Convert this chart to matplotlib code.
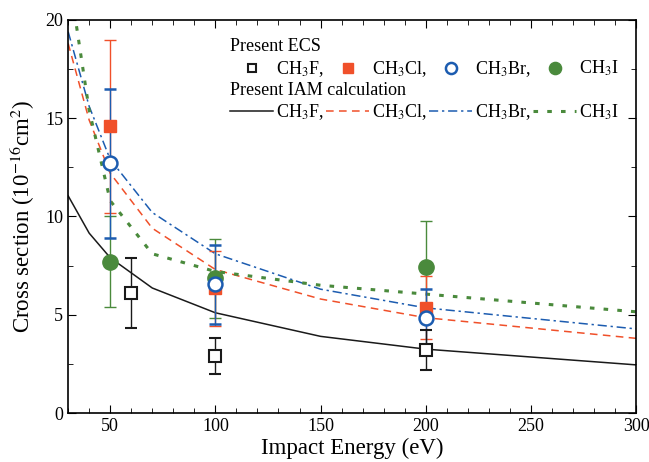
import matplotlib
matplotlib.use("Agg")
import matplotlib.pyplot as plt
from matplotlib.lines import Line2D
import numpy as np

plt.rcParams['font.family'] = ['Liberation Serif', 'DejaVu Serif']
plt.rcParams['mathtext.fontset'] = 'stix'

### Measured ECS (symbols with error bars)
f_x = [60, 100, 200]
f_y = [6.1, 2.9, 3.2]
f_err = [1.8, 0.9, 1.0]

cl_x = [50, 100, 200]
cl_y = [14.6, 6.35, 5.35]
cl_err = [4.4, 1.9, 1.6]

br_x = [50, 100, 200]
br_y = [12.7, 6.55, 4.85]
br_err = [3.8, 2.0, 1.45]

i_x = [50, 100, 200]
i_y = [7.7, 6.85, 7.45]
i_err = [2.3, 2.0, 2.3]

### IAM calculation (lines)
iam_e = [30, 40, 50, 70, 100, 150, 200, 300]
iam_f = [11.05, 9.15, 7.9, 6.36, 5.1, 3.9, 3.25, 2.45]
iam_cl = [18.8, 14.9, 12.2, 9.4, 7.3, 5.8, 4.85, 3.8]
iam_br = [19.4, 15.6, 12.9, 10.2, 8.1, 6.3, 5.35, 4.28]
iam_i = [22.5, 15.4, 10.8, 8.1, 7.2, 6.5, 6.05, 5.15]

names = ['CH$_3$F,', 'CH$_3$Cl,', 'CH$_3$Br,', 'CH$_3$I']

c_black = '#1a1a1a'
c_red = '#f0502a'
c_blue = '#1c5cb0'
c_green = '#4a8a3c'

fig = plt.figure(figsize=(6.49, 4.62), dpi=100)
ax = fig.add_axes([0.105, 0.106, 0.875, 0.851])

# lines
ls_cl = dict(color=c_red, lw=1.1, dashes=(5, 3.5))
ls_br = dict(color=c_blue, lw=1.1, dashes=(6, 2.5, 1.5, 2.5))
ls_i = dict(color=c_green, lw=2.2, dashes=(1.5, 3))
ax.plot(iam_e, iam_f, color=c_black, lw=1.1)
ax.plot(iam_e, iam_cl, **ls_cl)
ax.plot(iam_e, iam_br, **ls_br)
ax.plot(iam_e, iam_i, **ls_i)

# symbols
sym_i = dict(marker='o', color=c_green, ms=11)
sym_cl = dict(marker='s', color=c_red, ms=9)
sym_br = dict(marker='o', color=c_blue, mfc='white', mec=c_blue, mew=1.8, ms=10)
sym_f = dict(marker='s', color=c_black, mfc='white', mec=c_black, mew=1.5, ms=8)
eb = dict(capsize=4, elinewidth=1, capthick=1, ls='none')
ax.errorbar(i_x, i_y, yerr=i_err, **sym_i, **eb)
ax.errorbar(cl_x, cl_y, yerr=cl_err, **sym_cl, **eb)
ax.errorbar(br_x, br_y, yerr=br_err, **sym_br, **eb)
ax.errorbar(f_x, f_y, yerr=f_err, **sym_f, **eb)

ax.set_xlim(30, 300)
ax.set_ylim(0, 20)
ax.set_xticks([50, 100, 150, 200, 250, 300])
ax.set_xticks(np.arange(30, 301, 10), minor=True)
ax.set_yticks([0, 5, 10, 15, 20])
ax.set_yticks(np.arange(0, 20.1, 2.5), minor=True)
ax.tick_params(which='both', direction='in', top=True, right=True, labelsize=13)
ax.tick_params(which='major', length=6)
ax.tick_params(which='minor', length=3.5)
for s in ax.spines.values():
    s.set_linewidth(1.2)

ax.set_xlabel('Impact Energy (eV)', fontsize=16.5, labelpad=2)
ax.set_ylabel('Cross section (10$^{-16}$cm$^2$)', fontsize=16.5, labelpad=6)

leg_kw = dict(ncol=4, frameon=False, fontsize=13, title_fontsize=13, loc='upper left',
              handlelength=2.4, handletextpad=0.15, columnspacing=0.12, borderpad=0.2,
              labelspacing=0.2, alignment='left')
h_sym = [Line2D([], [], ls='none', **s) for s in (sym_f, sym_cl, sym_br, sym_i)]
for h in h_sym:
    h.set_markersize(h.get_markersize() * 0.8)
leg1 = ax.legend(handles=h_sym, labels=names, title='Present ECS',
                 bbox_to_anchor=(0.263, 0.985), **leg_kw)
ax.add_artist(leg1)
h_lin = [Line2D([], [], color=c_black, lw=1.1), Line2D([], [], **ls_cl),
         Line2D([], [], **ls_br), Line2D([], [], **ls_i)]
ax.legend(handles=h_lin, labels=names, title='Present IAM calculation',
          bbox_to_anchor=(0.263, 0.875), **leg_kw)

fig.savefig('out.png', dpi=100)
